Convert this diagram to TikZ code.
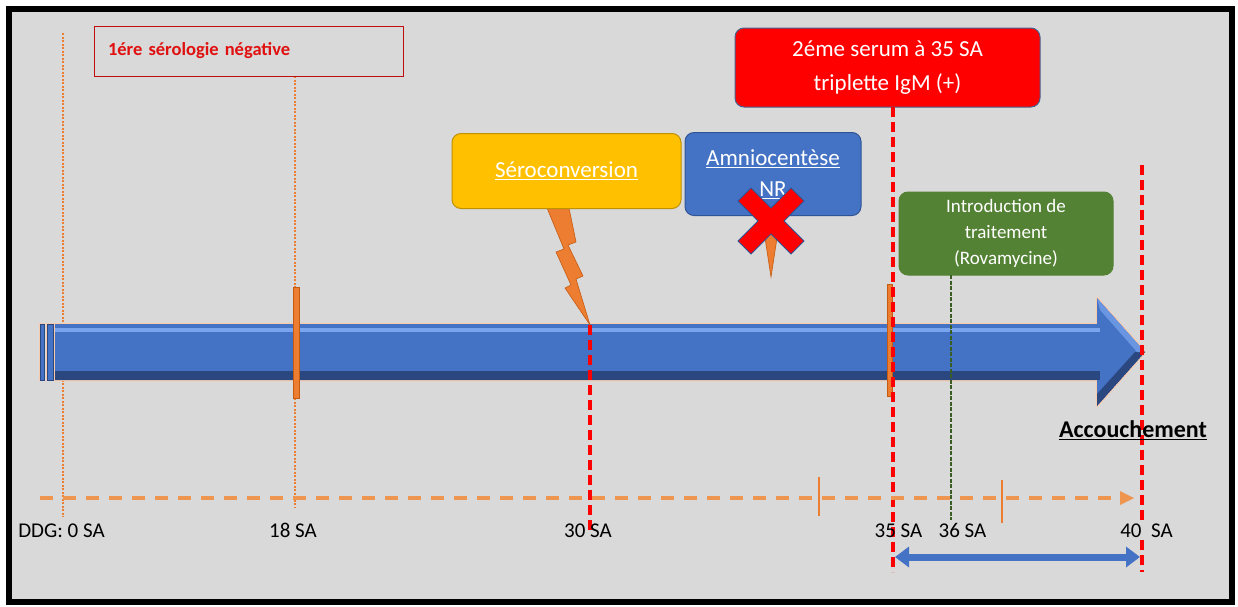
\documentclass[tikz,border=0pt]{standalone}
\usepackage{fontspec}
\setmainfont{Carlito}
\usetikzlibrary{arrows.meta,calc}
\definecolor{bg}{HTML}{D9D9D9}
\definecolor{obr}{HTML}{ED7D31}
\definecolor{obrdk}{HTML}{C55A11}
\definecolor{olt}{HTML}{EE9550}
\definecolor{oglow}{HTML}{F8CBAD}
\definecolor{bl}{HTML}{4472C4}
\definecolor{bllt}{HTML}{7AA4EE}
\definecolor{blshadow}{HTML}{2B4780}
\definecolor{bldk}{HTML}{2F5597}
\definecolor{gold}{HTML}{FFC000}
\definecolor{golddk}{HTML}{BF9000}
\definecolor{grn}{HTML}{548235}
\definecolor{grndk}{HTML}{3A5E22}
\definecolor{rd}{HTML}{FF0000}
\definecolor{txtrd}{HTML}{E01010}
\begin{document}
\begin{tikzpicture}[x=1pt,y=-1pt,
  lbl/.style={font=\fontsize{21}{25}\selectfont, inner sep=1pt, anchor=base},
  reddash/.style={draw=rd, line width=3.5pt, dash pattern=on 10pt off 5pt},
  thindot/.style={draw=obr, line width=1.1pt, dash pattern=on 2pt off 1.5pt},
  tick/.style={draw=obr, line width=1.2pt},
  callbox/.style={rounded corners=9pt, text=white, align=center, inner sep=0pt, line width=1pt},
  marker/.style={fill=obr, draw=obrdk, line width=0.6pt, inner sep=0pt}
]
\useasboundingbox (0,0) rectangle (1238,606);
\fill[white] (0,0) rectangle (1238,606);
\draw[line width=6pt, fill=bg] (8.5,9) rectangle (1232,602);

% coordinates
\coordinate (d0top) at (63,33);
\coordinate (d0bot) at (63,517);
\coordinate (d18top) at (295,76);
\coordinate (d18bot) at (295,507);

% thin dotted guide lines
\draw[thindot] (d0top) -- (d0bot);
\draw[thindot] (d18top) -- (d18bot);

% first serology box
\node[draw=txtrd!85!black, line width=0.8pt, minimum width=309pt, minimum height=50pt,
      inner xsep=14pt, text width=281pt, align=left, text=txtrd,
      font=\bfseries\fontsize{18.5}{22}\selectfont] (sero1) at (248.5,51) {1ére sérologie négative};

% timeline arrow
\draw[oglow, line width=2.5pt, line join=round] (55,324) -- (1097,324) -- (1097,298) -- (1145,352) -- (1097,406) -- (1097,380) -- (55,380) -- cycle;
\fill[bl] (55,324) -- (1097,324) -- (1097,298) -- (1145,352) -- (1097,406) -- (1097,380) -- (55,380) -- cycle;
\begin{scope}
  \clip (55,324) -- (1097,324) -- (1097,298) -- (1145,352) -- (1097,406) -- (1097,380) -- (55,380) -- cycle;
  \fill[bllt] (40,328) rectangle (1100,332);
  \fill[blshadow] (40,371) rectangle (1100,380);
  \fill[blshadow] (1097,406) -- (1145,352) -- (1135,352) -- (1097,394) -- cycle;
  \fill[bllt!70!bl] (1097,298) -- (1145,352) -- (1137,352) -- (1100,310) -- cycle;
\end{scope}
\draw[oglow, line width=1.5pt] (40,324) rectangle (44,380);
\draw[oglow, line width=1.5pt] (47,324) rectangle (53,380);
\fill[bl, draw=blshadow, line width=0.6pt] (40,324) rectangle (44,380);
\fill[bl, draw=blshadow, line width=0.6pt] (47,324) rectangle (53,380);

% markers
\node[marker, minimum width=6pt, minimum height=111pt] (m18) at (296,342.5) {};
\node[marker, minimum width=5pt, minimum height=112pt] (m35) at (890,340) {};

% seroconversion lightning
\coordinate (sc) at (590,325);
\coordinate (sclow) at (590,530);
\fill[obr, draw=obrdk, line width=0.6pt] (547,208) -- (569,208) -- (576,242) -- (568,245) -- (583,276) -- (576,279) -- (sc) -- (565,288) -- (571,285) -- (556,252) -- (564,249) -- cycle;
\draw[reddash] (sc) -- (sclow);

\node[callbox, fill=gold, draw=golddk, minimum width=229pt, minimum height=75pt,
      font=\fontsize{23}{28}\selectfont] (serobox) at (566.5,171) {\underline{Séroconversion}};

% amniocentese
\fill[obr, draw=obrdk, line width=0.6pt] (761,212) -- (781,212) -- (771,277) -- cycle;
\node[callbox, fill=bl, draw=bldk, minimum width=176pt, minimum height=83pt,
      font=\fontsize{23}{31}\selectfont] (amnio) at (773,174) {\underline{Amniocentèse}\\\underline{NR}};
\fill[rd, draw=bldk, line width=0.8pt] (738,201) -- (751,188) -- (771,208) -- (791,188) -- (804,201) -- (784,221) -- (804,241) -- (791,254) -- (771,234) -- (751,254) -- (738,241) -- (758,221) -- cycle;

% second serum
\node[callbox, fill=rd, draw=bldk!70!gray, minimum width=305pt, minimum height=79pt,
      font=\fontsize{23}{34}\selectfont] (serum) at (887.5,67.5) {2éme serum à 35 SA\\triplette IgM (+)};
\coordinate (r35top) at (893,107);
\coordinate (r35bot) at (893,572);
\draw[reddash] (r35top) -- (r35bot);

% treatment
\node[callbox, fill=grn, draw=grn, minimum width=214pt, minimum height=83pt,
      font=\fontsize{19}{26}\selectfont] (treat) at (1006,233.5) {Introduction de\\traitement\\(Rovamycine)};
\coordinate (g36top) at (951,275);
\coordinate (g36bot) at (951,520);
\draw[grndk, line width=1.6pt, dash pattern=on 4pt off 1.5pt] (g36top) -- (g36bot);

% delivery line
\coordinate (r40top) at (1142,165);
\coordinate (r40bot) at (1142,572);
\draw[reddash] (r40top) -- (r40bot);

% dashed axis
\coordinate (ax0) at (40,498);
\coordinate (ax1) at (1120,498);
\coordinate (axtip) at (1134,498);
\draw[olt, line width=4pt, dash pattern=on 13pt off 10pt] (ax0) -- (ax1);
\fill[olt] ($(ax1)+(0,-7)$) -- (axtip) -- ($(ax1)+(0,7)$) -- cycle;

% ticks
\coordinate (t1a) at (819,477); \coordinate (t1b) at (819,516);
\coordinate (t2a) at (1002,480); \coordinate (t2b) at (1002,523);
\draw[tick] (t1a) -- (t1b);
\draw[tick] (t2a) -- (t2b);

% labels
\node[lbl] (l0) at (61.5,537) {DDG: 0 SA};
\node[lbl] (l18) at (293,537) {18 SA};
\node[lbl] (l30) at (588,537) {30 SA};
\node[lbl] (l35) at (898.5,537) {35 SA};
\node[lbl] (l36) at (962.5,537) {36 SA};
\node[lbl, fill=bg] (l40) at (1146.5,537) {40~~SA};

% interval double arrow
\coordinate (i35) at (895,557);
\coordinate (i40) at (1140,557);
\draw[bl, line width=7pt, {Triangle[length=14pt,width=20pt]}-{Triangle[length=14pt,width=20pt]}] (i35) -- (i40);

% delivery label
\node[font=\bfseries\fontsize{24}{28}\selectfont, inner sep=0pt] (acc) at (1133,430) {\underline{Accouchement}};
\end{tikzpicture}
\end{document}
